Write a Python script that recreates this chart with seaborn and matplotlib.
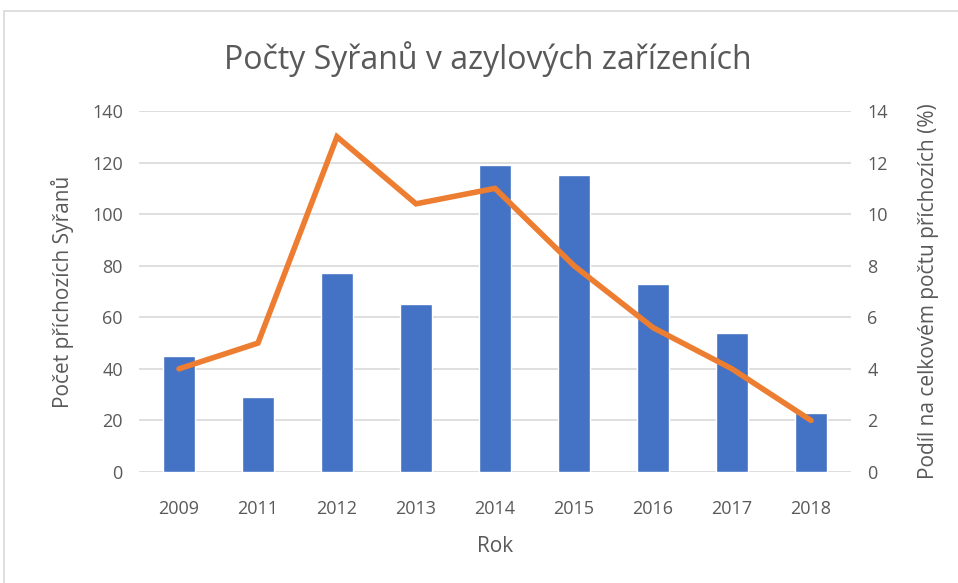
import matplotlib
matplotlib.use('Agg')
import matplotlib.pyplot as plt
import matplotlib.patches as mpatches
import numpy as np
import pandas as pd
import seaborn as sns

years = ['2009', '2011', '2012', '2013', '2014', '2015', '2016', '2017', '2018']
counts = [45, 29, 77, 65, 119, 115, 73, 54, 23]
share = [4.0, 5.0, 13.0, 10.4, 11.0, 8.0, 5.6, 4.0, 2.0]

df = pd.DataFrame({'Rok': years, 'pocet': counts, 'podil': share})

sns.set_style('white')
plt.rcParams['font.family'] = ['Open Sans', 'DejaVu Sans']
grey = '#595959'
blue = '#4472C4'
orange = '#ED7D31'

fig = plt.figure(figsize=(9.58, 5.83), dpi=100)
ax = fig.add_axes([0.1456, 0.1904, 0.7422, 0.6192])

# frame around the chart
fig.patches.append(mpatches.Rectangle((4 / 958, -0.1), 1.2, 1 - 11 / 583 + 0.1,
                                      transform=fig.transFigure, fill=False,
                                      edgecolor='#D9D9D9', linewidth=1.2))

sns.barplot(data=df, x='Rok', y='pocet', color=blue, width=0.4,
            saturation=1, ax=ax, zorder=3)
ax.set_ylim(0, 140)
ax.set_yticks(range(0, 141, 20))
ax.grid(axis='y', color='#D9D9D9', linewidth=1.2, zorder=0)
ax.set_axisbelow(True)
ax.set_xlabel('Rok', fontsize=15, color=grey, labelpad=13)
ax.set_ylabel('Počet příchozích Syřanů', fontsize=15, color=grey, labelpad=13)
ax.tick_params(axis='x', length=0, labelsize=13, labelcolor=grey, pad=20)
ax.tick_params(axis='y', length=0, labelsize=13, labelcolor=grey, pad=12)
for s in ax.spines.values():
    s.set_visible(False)

ax2 = ax.twinx()
sns.lineplot(x=np.arange(len(years)), y=share, color=orange, linewidth=4,
             ax=ax2, zorder=4, solid_capstyle='round', solid_joinstyle='miter')
ax2.set_ylim(0, 14)
ax2.set_yticks(range(0, 15, 2))
ax2.set_ylabel('Podíl na celkovém počtu příchozích (%)', fontsize=15,
               color=grey, labelpad=22)
ax2.tick_params(axis='y', length=0, labelsize=13, labelcolor=grey, pad=12)
for s in ax2.spines.values():
    s.set_visible(False)
ax2.grid(False)
ax.set_xlim(-0.5, len(years) - 0.5)

fig.text(0.509, 0.898, 'Počty Syřanů v azylových zařízeních', ha='center',
         va='center', fontsize=23, color=grey)

fig.savefig('out.png', dpi=100)
